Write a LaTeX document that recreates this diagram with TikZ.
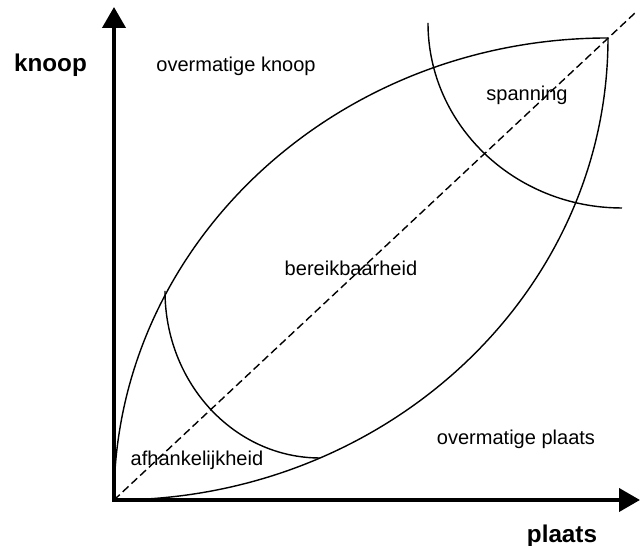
\documentclass[tikz,border=0pt]{standalone}
\usepackage{fontspec}
\setmainfont{Liberation Sans}
\usetikzlibrary{arrows.meta}

\begin{document}
\begin{tikzpicture}[
  x=0.02cm, y=0.02cm,
  axis/.style={line width=0.08cm, {Triangle[length=0.42cm, width=0.46cm]}-{Triangle[length=0.42cm, width=0.46cm]}},
  curve/.style={line width=0.8pt},
  diag/.style={line width=0.8pt, dash pattern=on 4.5pt off 2.3pt},
  region/.style={font=\fontsize{11.4}{13}\selectfont, anchor=base},
  axlabel/.style={font=\fontsize{13.8}{16}\selectfont\bfseries, anchor=base},
]
\useasboundingbox (-114,-46) rectangle (526,500);
\coordinate (O) at (0,0);
\coordinate (T) at (494,462);
\coordinate (ytip) at (0,493);
\coordinate (xtip) at (526,0);
\coordinate (dend) at (521,487);
% axes
\draw[axis] (ytip) -- (O) -- (xtip);
% the two boundary curves
\draw[curve] (O) arc[start angle=180, end angle=90, x radius=494, y radius=462];
\draw[curve] (O) arc[start angle=270, end angle=360, x radius=494, y radius=462];
% cut-off arcs
\draw[curve] (314,477) arc[start angle=180, end angle=270, x radius=194, y radius=185];
\draw[curve] (51,209) arc[start angle=180, end angle=270, x radius=155, y radius=167];
\draw[diag] (O) -- (dend);
% labels
\node[axlabel] (knoop) at (-63.5,428) {knoop};
\node[axlabel] (plaats) at (448,-43) {plaats};
\node[region] (ovknoop) at (122,428) {overmatige knoop};
\node[region] (spanning) at (413,399) {spanning};
\node[region] (bereik) at (237,224) {bereikbaarheid};
\node[region] (afh) at (83,34) {afhankelijkheid};
\node[region] (ovplaats) at (402,55) {overmatige plaats};
\end{tikzpicture}
\end{document}
